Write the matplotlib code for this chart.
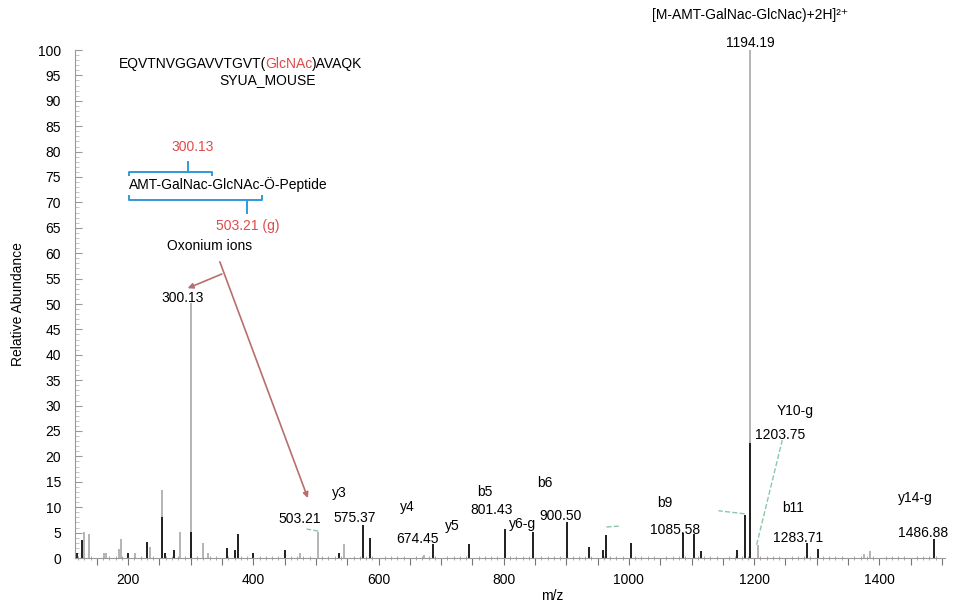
import numpy as np
import matplotlib.pyplot as plt
from matplotlib.ticker import MultipleLocator, FuncFormatter

plt.rcParams['font.family'] = ['Liberation Sans', 'DejaVu Sans']

# 谱峰数据 (m/z, 相对丰度)
dark_mz = [118, 126, 200, 230, 254, 258, 273, 300.13, 358, 370, 375, 400, 451, 536,
           575.37, 586, 687, 745, 801.43, 847, 900.50, 937, 958, 964, 1004, 1087,
           1104, 1115, 1172, 1185, 1194.19, 1285, 1302, 1487]
dark_int = [1.0, 3.5, 1.0, 3.2, 8.1, 0.9, 1.6, 5.2, 2.0, 1.6, 4.7, 0.9, 1.5, 0.9,
            6.4, 4.0, 2.7, 2.8, 5.7, 5.1, 7.1, 2.2, 1.6, 4.6, 3.0, 4.9,
            4.8, 1.3, 1.5, 8.5, 22.7, 3.0, 1.8, 3.7]
light_mz = [129, 138, 161, 165, 186, 188, 211, 235.5, 254, 282, 300.13, 319, 327,
            474, 504, 544, 672, 1194.19, 1206, 1375, 1385]
light_int = [5.1, 4.8, 1.0, 1.0, 1.7, 3.8, 1.0, 2.2, 13.3, 5.1, 50.2, 3.0, 1.0,
             1.0, 5.2, 2.8, 0.5, 100, 2.5, 0.8, 1.3]

# 峰标注: 文本, m/z, 丰度
peak_labels = ['300.13', '503.21', 'y3', '575.37', 'y4', '674.45', 'y5', 'b5', '801.43',
               'y6-g', 'b6', '900.50', 'b9', '1085.58', 'Y10-g', '1203.75', 'b11',
               '1283.71', 'y14-g', '1486.88', '1194.19']
label_mz = [287, 474, 538, 562, 646, 663, 718, 770, 780, 830, 865, 890, 1058, 1074,
            1266, 1242, 1263, 1271, 1458, 1470, 1194]
label_int = [51.2, 7.7, 12.8, 7.9, 10.0, 3.7, 6.3, 13.0, 9.4, 6.7, 14.8, 8.3, 10.8,
             5.5, 28.9, 24.2, 9.8, 3.9, 11.8, 4.9, 101.4]

fig = plt.figure(figsize=(9.58, 6.06), dpi=100)
ax = fig.add_axes([75 / 958, 48 / 606, 870 / 958, 508 / 606])

ax.vlines(light_mz, 0, light_int, color='#a8a8a8', lw=1.2)
ax.vlines(dark_mz, 0, dark_int, color='#1e1e1e', lw=1.4)

ax.set_xlim(115, 1505)
ax.set_ylim(0, 100)

for s in ['top', 'right']:
    ax.spines[s].set_visible(False)
for s in ['left', 'bottom']:
    ax.spines[s].set_color('#999999')
    ax.spines[s].set_linewidth(0.8)

ax.xaxis.set_major_locator(MultipleLocator(50))
ax.xaxis.set_minor_locator(MultipleLocator(10))
ax.xaxis.set_major_formatter(FuncFormatter(lambda v, p: '%d' % v if v % 200 == 0 else ''))
ax.tick_params(axis='x', which='major', direction='out', length=5, color='#777777', pad=6, labelsize=10)
ax.tick_params(axis='x', which='minor', direction='inout', length=3, color='#999999')
ax.yaxis.set_major_locator(MultipleLocator(5))
ax.yaxis.set_minor_locator(MultipleLocator(1))
ax.tick_params(axis='y', which='major', direction='in', length=5, color='#999999', pad=10, labelsize=10)
ax.tick_params(axis='y', which='minor', direction='in', length=3, color='#bbbbbb')

ax.set_xlabel('m/z', fontsize=10)
ax.xaxis.set_label_coords(0.548, -0.062)
ax.set_ylabel('Relative Abundance', fontsize=10)
ax.yaxis.set_label_coords(-0.057, 0.5)

for t, x, y in zip(peak_labels, label_mz, label_int):
    ax.text(x, y, t, ha='center', va='center', fontsize=10, clip_on=False)

ax.text(1194, 106.9, '[M-AMT-GalNac-GlcNac)+2H]²⁺', ha='center', va='center',
        fontsize=10, clip_on=False)

# 肽段序列 (GlcNAc 标红)
t1 = ax.text(185, 96.5, 'EQVTNVGGAVVTGVT(', ha='left', va='baseline', fontsize=10)
t2 = ax.annotate('GlcNAc', xy=(1, 0), xycoords=t1, xytext=(-0.8, 0), textcoords='offset points',
                 va='bottom', fontsize=10, color='#e04a4a')
ax.annotate(')AVAQK', xy=(1, 0), xycoords=t2, xytext=(0, 0), textcoords='offset points',
            va='bottom', fontsize=10)
ax.text(423, 94.1, 'SYUA_MOUSE', ha='center', va='center', fontsize=10)

# 结构示意
red = '#e04a4a'
blue = '#2f9ad8'
ax.text(303, 80.9, '300.13', ha='center', va='center', fontsize=10, color=red)
ax.text(202, 73.6, 'AMT-GalNac-GlcNAc-Ö-Peptide', ha='left', va='center', fontsize=10)
ax.text(391, 65.4, '503.21 (g)', ha='center', va='center', fontsize=10, color=red)
ax.text(330, 61.4, 'Oxonium ions', ha='center', va='center', fontsize=10)

ax.plot([202, 202, 334, 334], [75.3, 76.0, 76.0, 75.3], color=blue, lw=1.4)
ax.plot([295, 295], [76.0, 78.0], color=blue, lw=1.4)
ax.plot([201, 201, 414, 414], [71.3, 70.5, 70.5, 71.3], color=blue, lw=1.4)
ax.plot([390, 390], [70.5, 67.9], color=blue, lw=1.4)

rose = '#b86e6e'
ax.annotate('', xy=(487, 11.8), xytext=(346.4, 58.3),
            arrowprops=dict(arrowstyle='-|>', color=rose, lw=1.2, mutation_scale=8, shrinkA=0, shrinkB=0))
ax.annotate('', xy=(295, 53.1), xytext=(349.6, 55.9),
            arrowprops=dict(arrowstyle='-|>', color=rose, lw=1.2, mutation_scale=8, shrinkA=0, shrinkB=0))

# 标注引线 (绿色虚线)
green = '#8cc8a8'
ax.plot([503.7, 485], [5.3, 5.7], color=green, lw=1, ls='--')
ax.plot([964, 986], [6.1, 6.3], color=green, lw=1, ls='--')
ax.plot([1185, 1143], [8.7, 9.3], color=green, lw=1, ls='--')
ax.plot([1204, 1245], [2.6, 23.2], color=green, lw=1, ls='--')

fig.savefig('out.png', dpi=100)
